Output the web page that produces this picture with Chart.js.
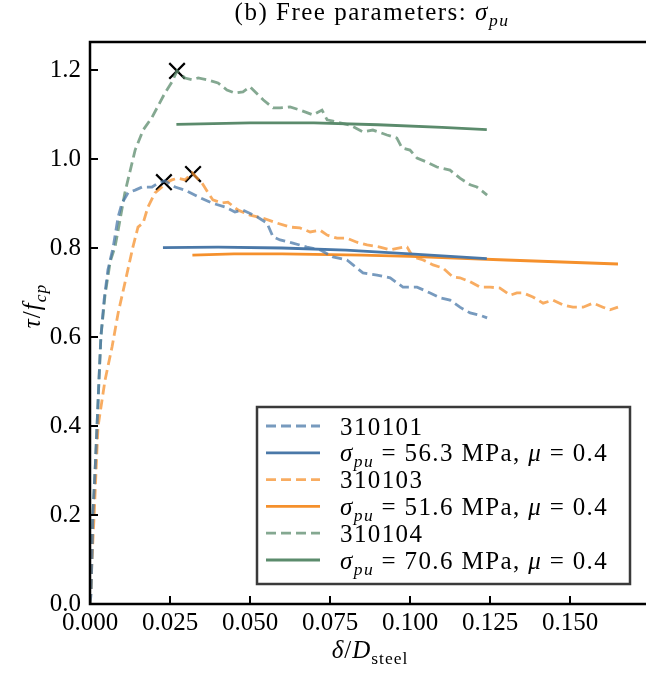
<!DOCTYPE html>
<html>
<head>
<meta charset="utf-8">
<script src="https://cdn.jsdelivr.net/npm/chart.js@4.4.1/dist/chart.umd.min.js"></script>
<style>
  html, body { margin: 0; padding: 0; background: #fff; }
</style>
</head>
<body>
<canvas id="chart" width="646" height="675"></canvas>
<script>
// test 310101 (measured)
var x101 = [0, 0.0003, 0.0006, 0.0009, 0.0016, 0.0022, 0.0028, 0.0034, 0.0044, 0.0056, 0.0072, 0.0088, 0.0100,
    0.0119, 0.0141, 0.0163, 0.0194, 0.0213, 0.0234, 0.0266, 0.0297, 0.0338, 0.0381, 0.0422, 0.0453, 0.0478,
    0.0522, 0.0553, 0.0572, 0.0594, 0.0634, 0.0678, 0.0719, 0.0759, 0.0803, 0.0822, 0.0853, 0.0897, 0.0938,
    0.0978, 0.1022, 0.1063, 0.1094, 0.1125, 0.1156, 0.1188, 0.1219, 0.1241];
var y101 = [0, 0.020, 0.099, 0.200, 0.301, 0.400, 0.503, 0.600, 0.683, 0.751, 0.800, 0.870, 0.901,
    0.924, 0.930, 0.937, 0.937, 0.946, 0.951, 0.937, 0.930, 0.915, 0.901, 0.892, 0.881, 0.885,
    0.870, 0.856, 0.825, 0.818, 0.811, 0.802, 0.796, 0.780, 0.773, 0.762, 0.744, 0.739, 0.733,
    0.712, 0.712, 0.699, 0.688, 0.683, 0.667, 0.654, 0.649, 0.643];

// test 310103 (measured)
var x103 = [0, 0.0003, 0.0006, 0.0013, 0.0019, 0.0025, 0.0047, 0.0069, 0.0088, 0.0109, 0.0134, 0.0150, 0.0166,
    0.0181, 0.0203, 0.0225, 0.0241, 0.0256, 0.0275, 0.0297, 0.0319, 0.0350, 0.0369, 0.0384, 0.0413, 0.0431,
    0.0463, 0.0500, 0.0541, 0.0584, 0.0625, 0.0656, 0.0688, 0.0719, 0.0741, 0.0772, 0.0803, 0.0834, 0.0866,
    0.0906, 0.0938, 0.0978, 0.0991, 0.1009, 0.1041, 0.1072, 0.1103, 0.1134, 0.1156, 0.1188, 0.1219, 0.1250,
    0.1281, 0.1313, 0.1334, 0.1353, 0.1384, 0.1416, 0.1447, 0.1478, 0.1509, 0.1541, 0.1572, 0.1603, 0.1625, 0.1650];
var y103 = [0, 0.031, 0.099, 0.200, 0.301, 0.398, 0.503, 0.578, 0.654, 0.721, 0.802, 0.847, 0.856,
    0.892, 0.924, 0.937, 0.948, 0.953, 0.957, 0.953, 0.969, 0.946, 0.924, 0.908, 0.901, 0.903,
    0.885, 0.874, 0.867, 0.856, 0.847, 0.845, 0.836, 0.840, 0.829, 0.822, 0.822, 0.813, 0.807,
    0.802, 0.796, 0.802, 0.802, 0.780, 0.773, 0.762, 0.755, 0.735, 0.733, 0.724, 0.712, 0.712,
    0.710, 0.694, 0.699, 0.699, 0.690, 0.676, 0.683, 0.672, 0.667, 0.667, 0.676, 0.667, 0.661, 0.667];

// test 310104 (measured)
var x104 = [0, 0.0003, 0.0006, 0.0009, 0.0016, 0.0022, 0.0028, 0.0034, 0.0047, 0.0063, 0.0078, 0.0088, 0.0109,
    0.0141, 0.0166, 0.0194, 0.0234, 0.0256, 0.0272, 0.0297, 0.0319, 0.0338, 0.0366, 0.0400, 0.0428, 0.0453,
    0.0478, 0.0500, 0.0541, 0.0572, 0.0594, 0.0625, 0.0656, 0.0697, 0.0725, 0.0741, 0.0772, 0.0813, 0.0853,
    0.0884, 0.0928, 0.0959, 0.0975, 0.1000, 0.1022, 0.1053, 0.1084, 0.1125, 0.1156, 0.1188, 0.1209, 0.1241];
var y104 = [0, 0.031, 0.110, 0.200, 0.301, 0.400, 0.503, 0.600, 0.694, 0.769, 0.802, 0.840, 0.924,
    1.020, 1.065, 1.094, 1.148, 1.173, 1.198, 1.182, 1.178, 1.182, 1.178, 1.171, 1.155, 1.148,
    1.151, 1.162, 1.133, 1.115, 1.115, 1.117, 1.110, 1.099, 1.110, 1.088, 1.083, 1.076, 1.061,
    1.065, 1.054, 1.047, 1.025, 1.020, 1.002, 0.993, 0.982, 0.975, 0.957, 0.942, 0.937, 0.919];

// model curves
var xModel101 = [0.0228, 0.040, 0.060, 0.080, 0.100, 0.124];
var yModel101 = [0.801, 0.802, 0.800, 0.795, 0.787, 0.776];
var xModel103 = [0.032, 0.045, 0.060, 0.085, 0.100, 0.130, 0.165];
var yModel103 = [0.784, 0.787, 0.787, 0.784, 0.781, 0.773, 0.764];
var xModel104 = [0.027, 0.050, 0.070, 0.090, 0.110, 0.124];
var yModel104 = [1.078, 1.081, 1.081, 1.077, 1.071, 1.066];

// peak markers
var peakX = [0.0231, 0.0322, 0.0272];
var peakY = [0.948, 0.966, 1.198];

var legendLabels = ['310101', '$σ_{pu} = 56.3$ MPa, $μ = 0.4$',
                    '310103', '$σ_{pu} = 51.6$ MPa, $μ = 0.4$',
                    '310104', '$σ_{pu} = 70.6$ MPa, $μ = 0.4$'];
var titleText = '(b) Free parameters: $σ_{pu}$';
var xLabel = '$δ/D$_{steel}';
var yLabel = '$τ/f_{cp}$';
var xTicks = [0, 0.025, 0.05, 0.075, 0.1, 0.125, 0.15];
var yTicks = [0, 0.2, 0.4, 0.6, 0.8, 1.0, 1.2];

var FONT = '"Liberation Serif", "DejaVu Serif", serif';
var FS = 25;

function pts(xs, ys) {
    return xs.map(function (x, i) { return { x: x, y: ys[i] }; });
}

function exp_set(label, xs, ys, rgb) {
    return {
        label: label,
        data: pts(xs, ys),
        borderColor: 'rgba(' + rgb + ',0.75)',
        borderWidth: 2.8,
        borderDash: [10, 5],
        pointRadius: 0,
        tension: 0,
        fill: false
    };
}

function model_set(label, xs, ys, rgb) {
    return {
        label: label,
        data: pts(xs, ys),
        borderColor: 'rgb(' + rgb + ')',
        borderWidth: 2.8,
        borderDash: [],
        pointRadius: 0,
        tension: 0,
        fill: false
    };
}

var BLUE = '74,120,168', ORANGE = '245,144,44', GREEN = '91,139,108';

var datasets = [
    exp_set(legendLabels[0], x101, y101, BLUE),
    model_set(legendLabels[1], xModel101, yModel101, BLUE),
    exp_set(legendLabels[2], x103, y103, ORANGE),
    model_set(legendLabels[3], xModel103, yModel103, ORANGE),
    exp_set(legendLabels[4], x104, y104, GREEN),
    model_set(legendLabels[5], xModel104, yModel104, GREEN),
    {
        label: 'peak',
        data: pts(peakX, peakY),
        showLine: false,
        pointStyle: 'crossRot',
        pointRadius: 11,
        pointBorderWidth: 2.2,
        pointBorderColor: '#000',
        borderColor: '#000',
        legend: false
    }
];

// tiny mathtext: $..$ = math (letters italic, spaces dropped), _{..} = subscript
function math_runs(str) {
    var runs = [], math = false, i = 0;
    function push(ch, sub) {
        var it = math && /\p{L}/u.test(ch);
        var eq = math && !sub && ch === '=';
        var last = runs[runs.length - 1];
        if (last && !eq && !last.eq && last.it === it && last.sub === sub) last.t += ch;
        else runs.push({ t: ch, it: it, sub: sub, eq: eq });
    }
    while (i < str.length) {
        var c = str[i];
        if (c === '$') { math = !math; i++; continue; }
        if (c === '_' && str[i + 1] === '{') {
            var end = str.indexOf('}', i);
            var s = str.slice(i + 2, end);
            for (var k = 0; k < s.length; k++) push(s[k], true);
            i = end + 1;
            continue;
        }
        if (math && c === ' ') { i++; continue; }
        push(c, false);
        i++;
    }
    return runs;
}

function draw_math(ctx, str, x, y, size, align, spacing) {
    var runs = math_runs(str), w = 0;
    ctx.letterSpacing = (spacing || 0) + 'px';
    runs.forEach(function (r) {
        r.size = r.sub ? size * 0.7 : size;
        r.font = (r.it ? 'italic ' : '') + r.size + 'px ' + FONT;
        ctx.font = r.font;
        r.w = ctx.measureText(r.t).width;
        r.pad = r.eq ? size * 0.3 : 0;
        w += r.w + 2 * r.pad;
    });
    var cx = align === 'center' ? x - w / 2 : (align === 'right' ? x - w : x);
    ctx.textAlign = 'left';
    ctx.textBaseline = 'alphabetic';
    ctx.fillStyle = '#000';
    runs.forEach(function (r) {
        ctx.font = r.font;
        ctx.fillText(r.t, cx + r.pad, y + (r.sub ? size * 0.24 : 0));
        cx += r.w + 2 * r.pad;
    });
    ctx.letterSpacing = '0px';
}

var decorPlugin = {
    id: 'decor',
    afterDatasetsDraw: function (chart) {
        var ctx = chart.ctx, a = chart.chartArea;
        var xs = chart.scales.x, ys = chart.scales.y;
        ctx.save();
        // inward ticks
        ctx.strokeStyle = '#000';
        ctx.lineWidth = 2;
        ctx.beginPath();
        xTicks.forEach(function (v) {
            var p = Math.round(xs.getPixelForValue(v));
            ctx.moveTo(p, a.bottom);
            ctx.lineTo(p, a.bottom - 8);
        });
        yTicks.forEach(function (v) {
            var p = Math.round(ys.getPixelForValue(v));
            ctx.moveTo(a.left, p);
            ctx.lineTo(a.left + 8, p);
        });
        ctx.stroke();
        // spines
        ctx.lineWidth = 2.5;
        ctx.beginPath();
        ctx.moveTo(a.right + 2, a.top);
        ctx.lineTo(a.left, a.top);
        ctx.lineTo(a.left, a.bottom);
        ctx.lineTo(a.right + 2, a.bottom);
        ctx.stroke();

        // legend
        var bx = 257, by = 407, bw = 373, bh = 177;
        ctx.fillStyle = '#fff';
        ctx.fillRect(bx, by, bw, bh);
        ctx.strokeStyle = '#3a3a3a';
        ctx.lineWidth = 2.5;
        ctx.strokeRect(bx, by, bw, bh);
        chart.data.datasets.forEach(function (ds, i) {
            if (ds.legend === false) return;
            var cy = 426 + i * 26.8;
            ctx.beginPath();
            ctx.strokeStyle = ds.borderColor;
            ctx.lineWidth = ds.borderWidth;
            ctx.setLineDash(ds.borderDash);
            ctx.moveTo(266, cy);
            ctx.lineTo(320, cy);
            ctx.stroke();
            ctx.setLineDash([]);
            draw_math(ctx, ds.label, 340, cy + 8.5, FS, 'left', 1.4);
        });
        ctx.restore();
    },
    afterDraw: function (chart) {
        var ctx = chart.ctx;
        ctx.save();
        draw_math(ctx, titleText, 372, 20, FS, 'center', 1.5);
        draw_math(ctx, xLabel, 370, 658, FS, 'center', 1);
        ctx.translate(40, 306);
        ctx.rotate(-Math.PI / 2);
        draw_math(ctx, yLabel, 0, 0, FS, 'center', 1);
        ctx.restore();
    }
};

var tickFont = { family: FONT, size: FS };

new Chart(document.getElementById('chart'), {
    type: 'line',
    data: { datasets: datasets },
    options: {
        responsive: false,
        animation: false,
        devicePixelRatio: 1,
        layout: { autoPadding: false, padding: { top: 42, left: 0, right: 0, bottom: 0 } },
        plugins: {
            legend: { display: false },
            title: { display: false },
            tooltip: { enabled: false }
        },
        scales: {
            x: {
                type: 'linear',
                min: 0,
                max: 0.17375,
                grid: { display: false, drawTicks: false },
                border: { display: false },
                afterBuildTicks: function (s) { s.ticks = xTicks.map(function (v) { return { value: v }; }); },
                afterFit: function (s) {
                    s.height = 71;
                    s.paddingLeft = 0;
                    s.paddingRight = 0;
                },
                ticks: {
                    color: '#000', font: tickFont, padding: 4, maxRotation: 0, autoSkip: false,
                    callback: function (v) { return v.toFixed(3); }
                }
            },
            y: {
                type: 'linear',
                min: 0,
                max: 1.2629,
                grid: { display: false, drawTicks: false },
                border: { display: false },
                afterBuildTicks: function (s) { s.ticks = yTicks.map(function (v) { return { value: v }; }); },
                afterFit: function (s) {
                    s.width = 90;
                    s.paddingTop = 0;
                    s.paddingBottom = 0;
                },
                ticks: {
                    color: '#000', font: tickFont, padding: 9, autoSkip: false,
                    callback: function (v) { return v.toFixed(1); }
                }
            }
        }
    },
    plugins: [decorPlugin]
});
</script>
</body>
</html>
